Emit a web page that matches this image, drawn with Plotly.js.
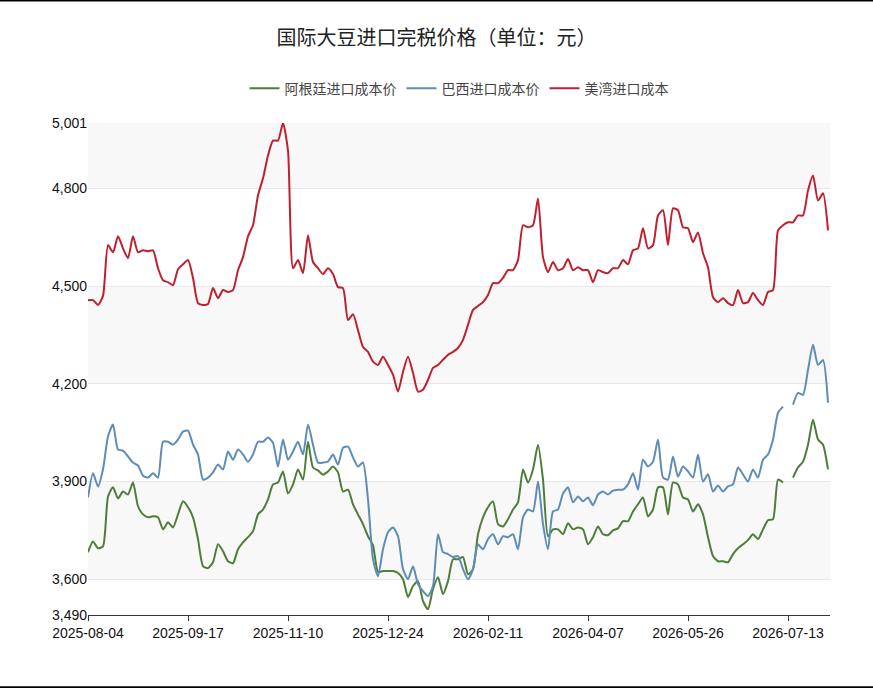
<!DOCTYPE html>
<html>
<head>
<meta charset="utf-8">
<script src="https://cdn.plot.ly/plotly-3.0.1.min.js"></script>
<style>
  body { margin: 0; background: #fff; }
  #chart { width: 873px; height: 688px; }
</style>
</head>
<body>
<div id="chart"></div>
<script>
// 国际大豆进口完税价格 - sampled along the trading-day axis

const dateLabels = ['2025-08-04', '2025-09-17', '2025-11-10', '2025-12-24', '2026-02-11', '2026-04-07', '2026-05-26', '2026-07-13'];
const labelStep = 20;

const argentina = [
    3683, 3716, 3695, 3701, 3854, 3882, 3848, 3869, 3860, 3897,
    3824, 3799, 3790, 3793, 3790, 3753, 3775, 3759, 3799, 3839,
    3821, 3790, 3723, 3640, 3634, 3652, 3707, 3686, 3655, 3649,
    3692, 3713, 3729, 3747, 3799, 3814, 3845, 3891, 3897, 3931,
    3863, 3891, 3937, 3906, 4022, 3943, 3934, 3921, 3931, 3946,
    3928, 3869, 3875, 3830, 3799, 3769, 3732, 3704, 3622, 3625,
    3625, 3625, 3619, 3600, 3545, 3579, 3594, 3533, 3508, 3570,
    3606, 3554, 3594, 3661, 3661, 3668, 3615, 3631, 3738, 3790,
    3821, 3839, 3769, 3762, 3784, 3814, 3836, 3937, 3897, 3937,
    4013, 3906, 3732, 3753, 3753, 3738, 3772, 3753, 3759, 3753,
    3707, 3729, 3762, 3738, 3735, 3750, 3756, 3778, 3778, 3808,
    3830, 3851, 3793, 3814, 3882, 3882, 3799, 3897, 3891, 3851,
    3845, 3808, 3830, 3799, 3729, 3671, 3655, 3655, 3652, 3677,
    3695, 3707, 3720, 3738, 3723, 3753, 3781, 3784, 3906, 3897,
    null, 3912, 3943, 3961, 4013, 4090, 4029, 4013, 3937
];

const brazil = [
    3851, 3925, 3885, 3937, 4038, 4075, 3998, 3995, 3977, 3958,
    3949, 3918, 3912, 3925, 3912, 4022, 4022, 4013, 4029, 4053,
    4056, 4013, 3983, 3906, 3912, 3928, 3952, 3937, 3992, 3967,
    3998, 3983, 3961, 3983, 4022, 4022, 4035, 4019, 3946, 4029,
    3967, 3992, 4022, 3983, 4075, 4013, 3958, 3958, 3961, 3983,
    3952, 4004, 4007, 3974, 3946, 3958, 3845, 3661, 3609, 3692,
    3744, 3759, 3732, 3631, 3600, 3640, 3585, 3563, 3548, 3579,
    3738, 3683, 3677, 3668, 3671, 3631, 3600, 3631, 3707, 3692,
    3723, 3738, 3707, 3732, 3729, 3738, 3692, 3790, 3814, 3808,
    3900, 3769, 3692, 3808, 3814, 3863, 3882, 3836, 3854, 3839,
    3851, 3827, 3860, 3869, 3860, 3872, 3875, 3875, 3891, 3925,
    3875, 3967, 3946, 3961, 4029, 3912, 3906, 3977, 3915, 3946,
    3931, 3912, 3983, 3900, 3922, 3869, 3888, 3869, 3885, 3891,
    3943, 3922, 3900, 3937, 3912, 3967, 3983, 4029, 4111, 4130,
    null, 4136, 4172, 4166, 4243, 4320, 4258, 4273, 4142
];

const usGulf = [
    4457, 4457, 4442, 4470, 4626, 4604, 4653, 4616, 4586, 4653,
    4604, 4610, 4607, 4610, 4555, 4518, 4512, 4503, 4552, 4567,
    4580, 4525, 4448, 4442, 4445, 4494, 4463, 4488, 4482, 4488,
    4549, 4589, 4653, 4687, 4779, 4831, 4901, 4947, 4947, 5001,
    4916, 4555, 4580, 4540, 4656, 4574, 4555, 4537, 4555, 4537,
    4497, 4494, 4396, 4414, 4365, 4313, 4298, 4268, 4258, 4283,
    4258, 4228, 4176, 4237, 4283, 4234, 4176, 4182, 4212, 4249,
    4258, 4274, 4289, 4298, 4310, 4335, 4381, 4427, 4439, 4451,
    4473, 4509, 4509, 4525, 4549, 4549, 4580, 4687, 4681, 4687,
    4769, 4589, 4543, 4574, 4549, 4555, 4583, 4549, 4558, 4549,
    4549, 4512, 4549, 4543, 4540, 4555, 4555, 4580, 4567, 4610,
    4616, 4678, 4616, 4626, 4717, 4733, 4626, 4739, 4733, 4681,
    4678, 4635, 4665, 4601, 4558, 4466, 4451, 4463, 4448, 4442,
    4488, 4448, 4451, 4479, 4457, 4442, 4482, 4488, 4671, 4687,
    4696, 4696, 4717, 4717, 4794, 4840, 4763, 4785, 4671
];

const yTicks = [3490, 3600, 3900, 4200, 4500, 4800, 5001];
const bandPairs = [[3600, 3900], [4200, 4500], [4800, 5001]];

function makeTrace(name, values, color) {
    return {
        x: values.map((v, i) => i),
        y: values,
        type: 'scatter',
        mode: 'lines',
        name: name,
        connectgaps: false,
        line: { color: color, width: 2, shape: 'spline', smoothing: 0.6 },
        hoverinfo: 'x+y'
    };
}

function createChart() {
    if (typeof Plotly === 'undefined') return;

    const traces = [
        makeTrace('阿根廷进口成本价', argentina, '#4e7d3a'),
        makeTrace('巴西进口成本价', brazil, '#5d8db6'),
        makeTrace('美湾进口成本', usGulf, '#c0202d')
    ];

    const bands = bandPairs.map(b => ({
        type: 'rect', xref: 'paper', yref: 'y', layer: 'below',
        x0: 0, x1: 1, y0: b[0], y1: b[1],
        fillcolor: '#f8f8f8', line: { width: 0 }
    }));
    bands.push(
        { type: 'line', xref: 'paper', yref: 'paper', x0: -0.2, x1: 1.2, y0: 1.25, y1: 1.25, line: { color: '#000', width: 3 } },
        { type: 'line', xref: 'paper', yref: 'paper', x0: -0.2, x1: 1.2, y0: -0.148, y1: -0.148, line: { color: '#000', width: 3 } }
    );

    const layout = {
        width: 873,
        height: 688,
        paper_bgcolor: '#ffffff',
        plot_bgcolor: '#ffffff',
        font: { family: '"Noto Sans CJK SC", "Liberation Sans", sans-serif', color: '#333' },
        margin: { l: 88, r: 43, t: 123, b: 73 },
        title: {
            text: '国际大豆进口完税价格（单位：元）',
            font: { size: 20, color: '#222' },
            x: 0.5, xanchor: 'center', y: 0.945, yanchor: 'middle'
        },
        showlegend: true,
        legend: {
            orientation: 'h', x: 0.5, xanchor: 'center', y: 1.07, yanchor: 'middle',
            font: { size: 14, color: '#444' }, traceorder: 'normal',
            itemwidth: 30, tracegroupgap: 0
        },
        xaxis: {
            range: [0, 148.4],
            tickvals: dateLabels.map((d, i) => i * labelStep),
            ticktext: dateLabels,
            showgrid: false,
            zeroline: false,
            showline: true,
            linecolor: '#333',
            linewidth: 1,
            ticks: 'outside',
            ticklen: 5,
            tickcolor: '#333',
            tickfont: { family: '"Liberation Sans", Arial, sans-serif', size: 14, color: '#111' }
        },
        yaxis: {
            range: [3490, 5001],
            tickvals: yTicks,
            tickformat: ',d',
            showgrid: true,
            gridcolor: '#e8e8e8',
            zeroline: false,
            showline: false,
            tickfont: { family: '"Liberation Sans", Arial, sans-serif', size: 14, color: '#111' }
        },
        shapes: bands
    };

    try {
        Plotly.newPlot('chart', traces, layout, { displayModeBar: false });
    } catch (error) {
        console.log('Error creating soybean chart:', error);
    }
}

createChart();
</script>
</body>
</html>
